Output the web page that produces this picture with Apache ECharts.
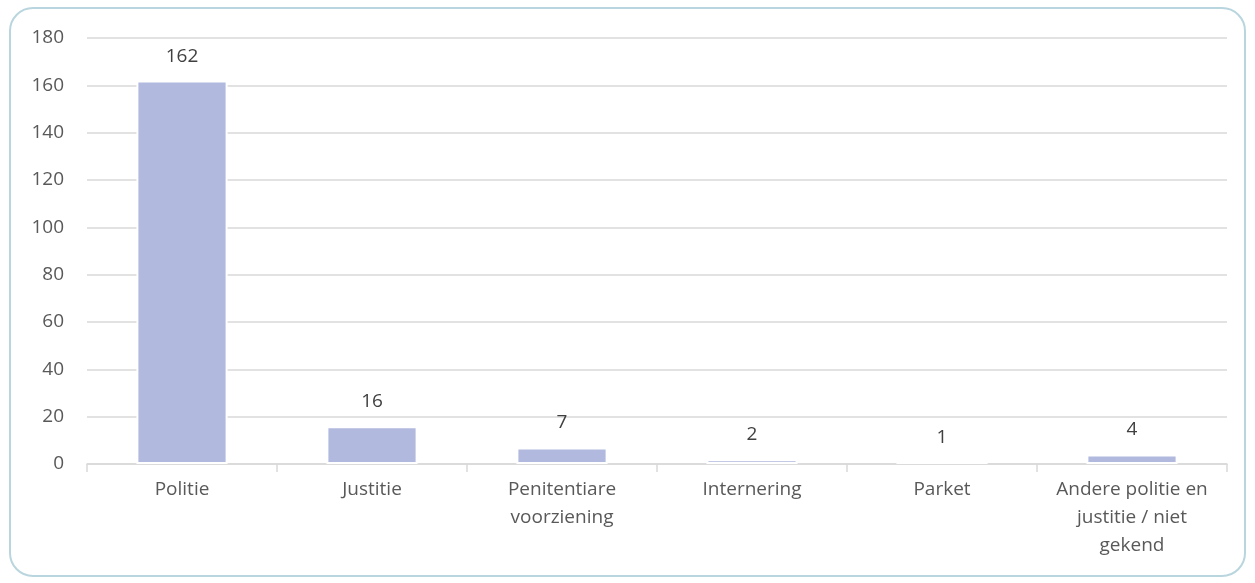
<!DOCTYPE html>
<html><head><meta charset="utf-8">
<script src="https://cdn.jsdelivr.net/npm/echarts@6/dist/echarts.min.js"></script>
<style>
html,body{margin:0;padding:0;background:#fff;}
#frame{position:absolute;left:9px;top:7px;width:1233px;height:566px;border:2px solid #b9d5de;border-radius:24px;box-sizing:content-box;}
#c{position:absolute;left:0;top:0;width:1255px;height:583px;}
</style></head>
<body>
<div id="frame"></div>
<div id="c"></div>
<script>
const categories = ["Politie","Justitie","Penitentiare\nvoorziening","Internering","Parket","Andere politie en\njustitie / niet\ngekend"];
const values = [162,16,7,2,1,4];
const yTicks = {min:0,max:180,interval:20};

const FONT = 'Open Sans, Liberation Sans, sans-serif';
const chart = echarts.init(document.getElementById('c'));
chart.setOption({
  animation:false,
  grid:{left:87,right:28,top:38,bottom:119},
  xAxis:{type:'category',data:categories,
    axisLine:{lineStyle:{color:'#d9d9d9',width:1.5}},
    axisTick:{show:true,length:8,lineStyle:{color:'#d9d9d9',width:1.5}},
    axisLabel:{interval:0,hideOverlap:false,color:'#595959',fontSize:19,fontFamily:FONT,lineHeight:28,margin:12}},
  yAxis:{type:'value',min:yTicks.min,max:yTicks.max,interval:yTicks.interval,
    axisLine:{show:false},axisTick:{show:false},
    splitLine:{lineStyle:{color:'#d9d9d9',width:1.5}},
    axisLabel:{color:'#595959',fontSize:19,fontFamily:FONT,margin:23}},
  series:[{type:'bar',data:values,barWidth:'48%',
    itemStyle:{color:'#b1b9de',borderColor:'#ffffff',borderWidth:2},
    label:{show:true,position:'top',distance:15,color:'#404040',fontSize:19,fontFamily:FONT}}]
});
</script>
</body></html>
